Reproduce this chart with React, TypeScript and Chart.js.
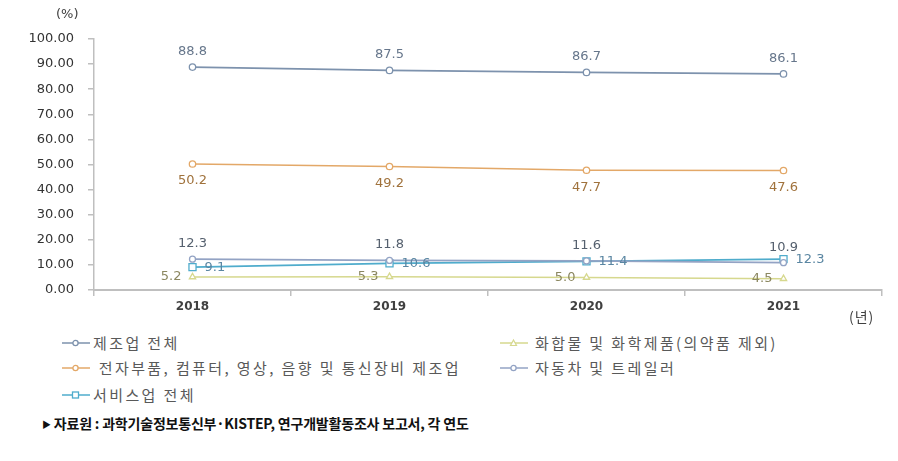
import React, { useEffect, useRef } from "react";
import { Chart, registerables } from "chart.js";

Chart.register(...registerables);

const categories = ["2018", "2019", "2020", "2021"];
const manufacturing = [88.8, 87.5, 86.7, 86.1];
const chemicals = [5.2, 5.3, 5.0, 4.5];
const electronics = [50.2, 49.2, 47.7, 47.6];
const automobiles = [12.3, 11.8, 11.6, 10.9];
const services = [9.1, 10.6, 11.4, 12.3];
const seriesNames = [
  "제조업 전체",
  "화합물 및 화학제품(의약품 제외)",
  " 전자부품, 컴퓨터, 영상, 음향 및 통신장비 제조업",
  "자동차 및 트레일러",
  "서비스업 전체",
];
const yUnit = "(%)";
const xUnit = "(년)";
const sourceText = "자료원 : 과학기술정보통신부·KISTEP, 연구개발활동조사 보고서, 각 연도";

const seriesData = [manufacturing, chemicals, electronics, automobiles, services];
const lineColors = ["#7d92ad", "#d6d88e", "#e3a868", "#93a3c4", "#4faccc"];
const labelColors = ["#66768b", "#8b8760", "#a0723c", "#55606e", "#5a86a2"];
const pointStyles = ["circle", "triangle", "circle", "circle", "rect"];
const pointRadii = [3.2, 3.6, 3.2, 3, 5];
const labelPositions = ["top", "left", "bottom", "top", "right"];

const valueLabelPlugin = {
  id: "valueLabels",
  afterDatasetsDraw(chart: any) {
    const ctx = chart.ctx;
    chart.data.datasets.forEach((ds: any, i: number) => {
      const meta = chart.getDatasetMeta(i);
      const pos = labelPositions[i];
      meta.data.forEach((pt: any, j: number) => {
        const text = Number(ds.data[j]).toFixed(1);
        ctx.save();
        ctx.font = '13px "DejaVu Sans"';
        ctx.fillStyle = labelColors[i];
        ctx.textBaseline = "middle";
        let x = pt.x;
        let y = pt.y;
        if (pos === "top") {
          ctx.textAlign = "center";
          y -= 15.5;
        } else if (pos === "bottom") {
          ctx.textAlign = "center";
          y += 17;
        } else if (pos === "left") {
          ctx.textAlign = "right";
          x -= 11;
        } else {
          ctx.textAlign = "left";
          x += 12;
        }
        ctx.fillText(text, x, y);
        ctx.restore();
      });
    });
  },
};

function LegendSymbol({ idx }: { idx: number }) {
  const c = lineColors[idx];
  const style = pointStyles[idx];
  let marker: any;
  if (style === "rect") {
    marker = <rect x={10.5} y={3} width={6} height={6} fill="#fff" stroke={c} strokeWidth={1.3} />;
  } else if (style === "triangle") {
    marker = <polygon points="13.5,3 16.5,8.5 10.5,8.5" fill="#fff" stroke={c} strokeWidth={1.2} />;
  } else {
    marker = <circle cx={13.5} cy={6} r={2.6} fill="#fff" stroke={c} strokeWidth={1.3} />;
  }
  return (
    <svg width={28} height={12} style={{ display: "block" }}>
      <line x1={0} y1={6} x2={28} y2={6} stroke={c} strokeWidth={1.5} />
      {marker}
    </svg>
  );
}

const legendLayout = [
  { sx: 62, tx: 93, y: 343 },
  { sx: 500, tx: 535, y: 343 },
  { sx: 62, tx: 93, y: 368 },
  { sx: 500, tx: 535, y: 368 },
  { sx: 62, tx: 93, y: 395 },
];

export default function App() {
  const canvasRef = useRef<HTMLCanvasElement>(null);

  useEffect(() => {
    const canvas = canvasRef.current;
    if (!canvas) return;
    const chart = new Chart(canvas, {
      type: "line",
      data: {
        labels: categories,
        datasets: seriesData.map((d, i) => ({
          label: seriesNames[i],
          data: d,
          borderColor: lineColors[i],
          backgroundColor: "#ffffff",
          borderWidth: 1.6,
          pointStyle: pointStyles[i] as any,
          pointRadius: pointRadii[i],
          pointBorderWidth: 1.3,
          pointBorderColor: lineColors[i],
          pointBackgroundColor: "#ffffff",
          tension: 0,
          fill: false,
        })),
      },
      options: {
        animation: false,
        responsive: false,
        maintainAspectRatio: false,
        layout: { padding: { top: 39, right: 16, left: 0, bottom: 0 } },
        plugins: {
          legend: { display: false },
          tooltip: { enabled: false },
        },
        scales: {
          x: {
            offset: true,
            afterFit: (scale: any) => {
              scale.height = 30;
            },
            grid: {
              display: true,
              drawOnChartArea: false,
              drawTicks: true,
              tickLength: 6,
              color: "#bfbfbf",
              lineWidth: 1.5,
              offset: true,
            },
            border: { display: true, color: "#bfbfbf", width: 2 },
            ticks: {
              color: "#404040",
              font: { family: "DejaVu Sans", size: 12, weight: "bold" },
              padding: 4,
              maxRotation: 0,
            },
          },
          y: {
            min: 0,
            max: 100,
            afterFit: (scale: any) => {
              scale.width = 94;
            },
            grid: {
              display: true,
              drawOnChartArea: false,
              drawTicks: true,
              tickLength: 6,
              color: "#bfbfbf",
              lineWidth: 1.5,
            },
            border: { display: true, color: "#bfbfbf", width: 1.5 },
            ticks: {
              stepSize: 10,
              color: "#333333",
              font: { family: "DejaVu Sans", size: 13 },
              padding: 14,
              callback: (v: any) => Number(v).toFixed(2),
            },
          },
        },
      },
      plugins: [valueLabelPlugin],
    });
    return () => chart.destroy();
  }, []);

  const korFont = '"Noto Sans CJK KR", "Noto Sans", sans-serif';

  return (
    <div
      style={{
        position: "fixed",
        left: 0,
        top: 0,
        width: 898,
        height: 461,
        background: "#ffffff",
        overflow: "hidden",
      }}
    >
      <canvas
        ref={canvasRef}
        width={898}
        height={320}
        style={{ position: "absolute", left: 0, top: 0, width: 898, height: 320 }}
      />
      <div
        style={{
          position: "absolute",
          left: 56,
          top: 5,
          font: '13px "DejaVu Sans"',
          color: "#404040",
          lineHeight: "18px",
        }}
      >
        {yUnit}
      </div>
      <div
        style={{
          position: "absolute",
          left: 849,
          top: 306,
          fontFamily: korFont,
          fontSize: 14,
          color: "#404040",
          lineHeight: "20px",
          letterSpacing: "1px",
        }}
      >
        {xUnit}
      </div>
      {seriesNames.map((name, i) => {
        const L = legendLayout[i];
        return (
          <React.Fragment key={i}>
            <div style={{ position: "absolute", left: L.sx, top: L.y - 6 }}>
              <LegendSymbol idx={i} />
            </div>
            <div
              style={{
                position: "absolute",
                left: L.tx,
                top: L.y - 11,
                lineHeight: "22px",
                fontFamily: korFont,
                fontSize: 15,
                letterSpacing: "2.4px",
                color: "#595959",
                whiteSpace: "pre",
              }}
            >
              {name}
            </div>
          </React.Fragment>
        );
      })}
      <div
        style={{
          position: "absolute",
          left: 42,
          top: 412,
          lineHeight: "22px",
          fontFamily: korFont,
          fontSize: 14,
          fontWeight: 700,
          color: "#111",
          whiteSpace: "pre",
          letterSpacing: "-0.2px",
        }}
      >
        <span style={{ fontSize: 9, verticalAlign: "middle", marginRight: 3 }}>▶</span>
        {sourceText}
      </div>
    </div>
  );
}
